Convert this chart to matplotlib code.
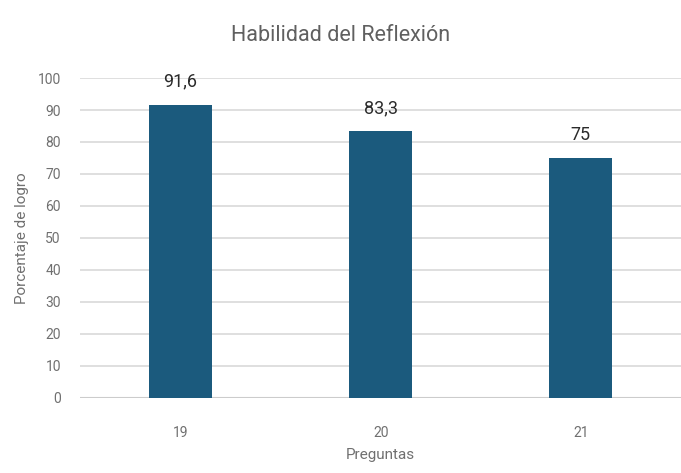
import numpy as np
import matplotlib
matplotlib.use("Agg")
import matplotlib.pyplot as plt

plt.rcParams['font.family'] = ['Roboto', 'DejaVu Sans']

# data
preguntas = ["19", "20", "21"]
logro = [91.6, 83.3, 75]
etiquetas = ["91,6", "83,3", "75"]
y_ticks = list(range(0, 101, 10))

fig = plt.figure(figsize=(6.81, 4.73), dpi=100)
ax = fig.add_axes([0.118, 0.159, 0.882, 0.676])

x = np.arange(len(preguntas))
bars = ax.bar(x, logro, width=0.315, color='#1b5a7d', zorder=3)

for b, lab in zip(bars, etiquetas):
    ax.text(b.get_x() + b.get_width() / 2, b.get_height() + 4.5, lab,
            ha='center', va='bottom', fontsize=13, color='#2b2b2b')

ax.set_xlim(-0.5, 2.5)
ax.set_ylim(0, 100)
ax.set_yticks(y_ticks)
ax.set_xticks(x)
ax.set_xticklabels(preguntas)
ax.grid(axis='y', color='#d9d9d9', linewidth=1.2, zorder=0)
ax.axhline(0, color='#cccccc', linewidth=1.5, zorder=2)
for s in ax.spines.values():
    s.set_visible(False)
ax.tick_params(axis='both', length=0, colors='#707070', labelsize=10)
ax.tick_params(axis='x', pad=20)
ax.tick_params(axis='y', pad=14)

ax.set_xlabel('Preguntas', fontsize=11, color='#707070', labelpad=6)
ax.set_ylabel('Porcentaje de logro', fontsize=11, color='#707070', labelpad=6)
fig.text(0.5, 0.925, 'Habilidad del Reflexión', ha='center', va='center',
         fontsize=15.5, color='#606060')

fig.savefig('out.png', dpi=100)
